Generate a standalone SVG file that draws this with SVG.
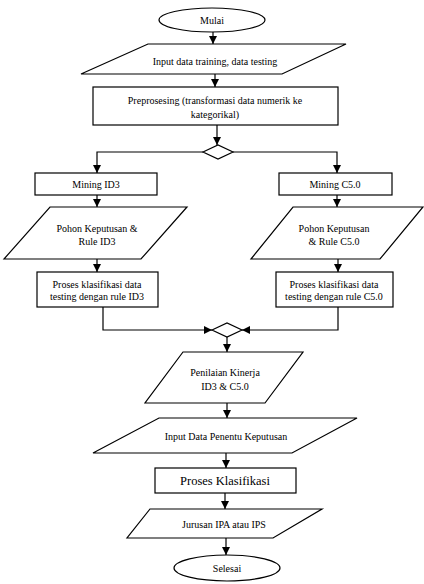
<svg xmlns="http://www.w3.org/2000/svg" width="424" height="584" viewBox="0 0 424 584">
<defs>
<marker id="ah" viewBox="0 0 10 10" refX="10" refY="5" markerWidth="8" markerHeight="8" markerUnits="userSpaceOnUse" orient="auto">
<path d="M0,0 L10,5 L0,10 z" fill="#000"/>
</marker>
</defs>
<style>
.s{fill:#fff;stroke:#000;stroke-width:1.2}
.c{fill:none;stroke:#000;stroke-width:1.2;marker-end:url(#ah)}
.t{font-family:'Liberation Serif','Times New Roman','DejaVu Serif',serif;font-size:10px;fill:#000;text-anchor:middle}
.big{font-size:12.5px}
</style>
<rect width="424" height="584" fill="#fff"/>
<g id="connectors">
<path class="c" d="M213,32 V44"/>
<path class="c" d="M215,74 V87"/>
<path class="c" d="M217,125 V145"/>
<path class="c" d="M203,152 H97 V173"/>
<path class="c" d="M233,152 H337 V173"/>
<path class="c" d="M97,195 V207"/>
<path class="c" d="M97,259 V272"/>
<path class="c" d="M337,195 V207"/>
<path class="c" d="M338,259 V272"/>
<path class="c" d="M103,307 V330 H212"/>
<path class="c" d="M338,307 V330 H242"/>
<path class="c" d="M227,337 V352"/>
<path class="c" d="M227,403 V418"/>
<path class="c" d="M226,453 V468"/>
<path class="c" d="M225,493 V509"/>
<path class="c" d="M226,538 V555"/>
</g>
<g font-family="Liberation Serif, Times New Roman, serif">
<g id="mulai">
<ellipse class="s" cx="212" cy="20" rx="53" ry="12"/>
<text class="t" x="212" y="23.5">Mulai</text>
</g>
<g id="input">
<polygon class="s" points="148,44 346,44 282,74 81,74"/>
<text class="t" x="215" y="65">Input data training, data testing</text>
</g>
<g id="preprosesing">
<rect class="s" x="93" y="87" width="245" height="38"/>
<text class="t" x="215" y="104">Preprosesing (transformasi data numerik ke</text>
<text class="t" x="215" y="118">kategorikal)</text>
</g>
<g id="decision1">
<polygon class="s" points="203,152 218,145 233,152 218,159"/>
</g>
<g id="mining-id3">
<rect class="s" x="35" y="173" width="122" height="22"/>
<text class="t" x="96" y="187.5">Mining ID3</text>
</g>
<g id="mining-c50">
<rect class="s" x="279" y="173" width="113" height="22"/>
<text class="t" x="335" y="187.5">Mining C5.0</text>
</g>
<g id="pohon-id3">
<polygon class="s" points="50,207 187,207 141,259 4,259"/>
<text class="t" x="97" y="232">Pohon Keputusan &amp;</text>
<text class="t" x="97" y="245">Rule ID3</text>
</g>
<g id="pohon-c50">
<polygon class="s" points="293,207 423,207 380,259 251,259"/>
<text class="t" x="334" y="232">Pohon Keputusan</text>
<text class="t" x="334" y="245">&amp; Rule C5.0</text>
</g>
<g id="proses-id3">
<rect class="s" x="37" y="272" width="121" height="35"/>
<text class="t" x="97" y="288">Proses klasifikasi data</text>
<text class="t" x="97" y="300">testing dengan rule ID3</text>
</g>
<g id="proses-c50">
<rect class="s" x="276" y="272" width="117" height="35"/>
<text class="t" x="334" y="288">Proses klasifikasi data</text>
<text class="t" x="334" y="300">testing dengan rule C5.0</text>
</g>
<g id="decision2">
<polygon class="s" points="212,330 227,323 242,330 227,337"/>
</g>
<g id="penilaian">
<polygon class="s" points="183,352 303,352 265,403 145,403"/>
<text class="t" x="225" y="376">Penilaian Kinerja</text>
<text class="t" x="225" y="390">ID3 &amp; C5.0</text>
</g>
<g id="input-penentu">
<polygon class="s" points="159,418 357,418 292,453 93,453"/>
<text class="t" x="226" y="440">Input Data Penentu Keputusan</text>
</g>
<g id="proses-klasifikasi">
<rect class="s" x="155" y="468" width="141" height="25"/>
<text class="t big" x="225" y="485">Proses Klasifikasi</text>
</g>
<g id="jurusan">
<polygon class="s" points="150,509 322,509 273,538 127,538"/>
<text class="t" x="224" y="528">Jurusan IPA atau IPS</text>
</g>
<g id="selesai">
<ellipse class="s" cx="227" cy="568" rx="53" ry="13"/>
<text class="t" x="227" y="571.5">Selesai</text>
</g>
</g>
</svg>
